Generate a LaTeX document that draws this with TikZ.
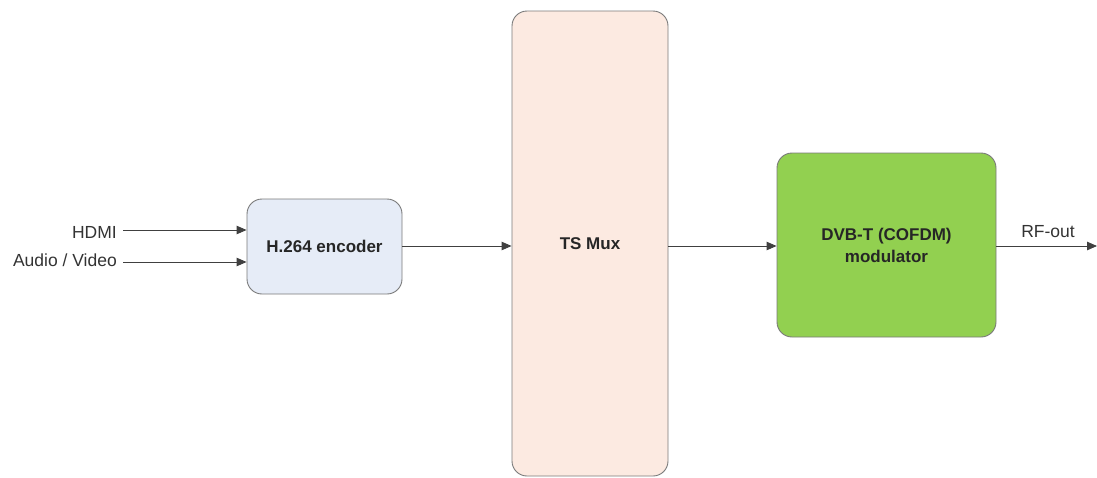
\documentclass[tikz,border=0pt]{standalone}
\usepackage{fontspec}
\setmainfont{Liberation Sans}
\usetikzlibrary{arrows.meta}
\definecolor{encfill}{HTML}{E6ECF7}
\definecolor{muxfill}{HTML}{FCEAE1}
\definecolor{modfill}{HTML}{92D050}
\definecolor{edge}{HTML}{7A7A7A}
\definecolor{wire}{HTML}{404040}
\begin{document}
\begin{tikzpicture}[x=1pt,y=-1pt,
  blk/.style={draw=edge, line width=0.9pt, rounded corners=15pt, font=\bfseries\fontsize{17}{22}\selectfont, align=center, inner sep=0pt, text=black!85},
  wirearrow/.style={draw=wire, line width=0.9pt, -{Triangle[length=10pt,width=8.5pt]}},
  lbl/.style={font=\fontsize{17.5}{20}\selectfont, inner sep=0pt, text=black!80}]
\useasboundingbox (0,0) rectangle (1097,477);
\node[blk, fill=encfill, minimum width=155pt, minimum height=95pt] (enc) at (324.5,246.5) {H.264 encoder};
\node[blk, fill=muxfill, minimum width=156pt, minimum height=465pt] (mux) at (590,243.5) {TS Mux};
\node[blk, fill=modfill, minimum width=219pt, minimum height=184pt] (mod) at (886.5,245) {DVB-T (COFDM)\\modulator};
\node[lbl, anchor=east] (hdmi) at (117,232.5) {HDMI};
\node[lbl, anchor=east] (av) at (117,260.5) {Audio / Video};
\coordinate (hdmiS) at (123,230);
\coordinate (avS) at (123,262);
\coordinate (rfend) at (1097,246);
\draw[wirearrow] (hdmiS) -- (hdmiS -| enc.west);
\draw[wirearrow] (avS) -- (avS -| enc.west);
\draw[wirearrow] (enc.east |- 0,246) -- (mux.west |- 0,246);
\draw[wirearrow] (mux.east |- 0,246) -- (mod.west |- 0,246);
\draw[wirearrow] (mod.east |- 0,246) -- (rfend);
\node[lbl] (rf) at (1048,232) {RF-out};
\end{tikzpicture}
\end{document}
